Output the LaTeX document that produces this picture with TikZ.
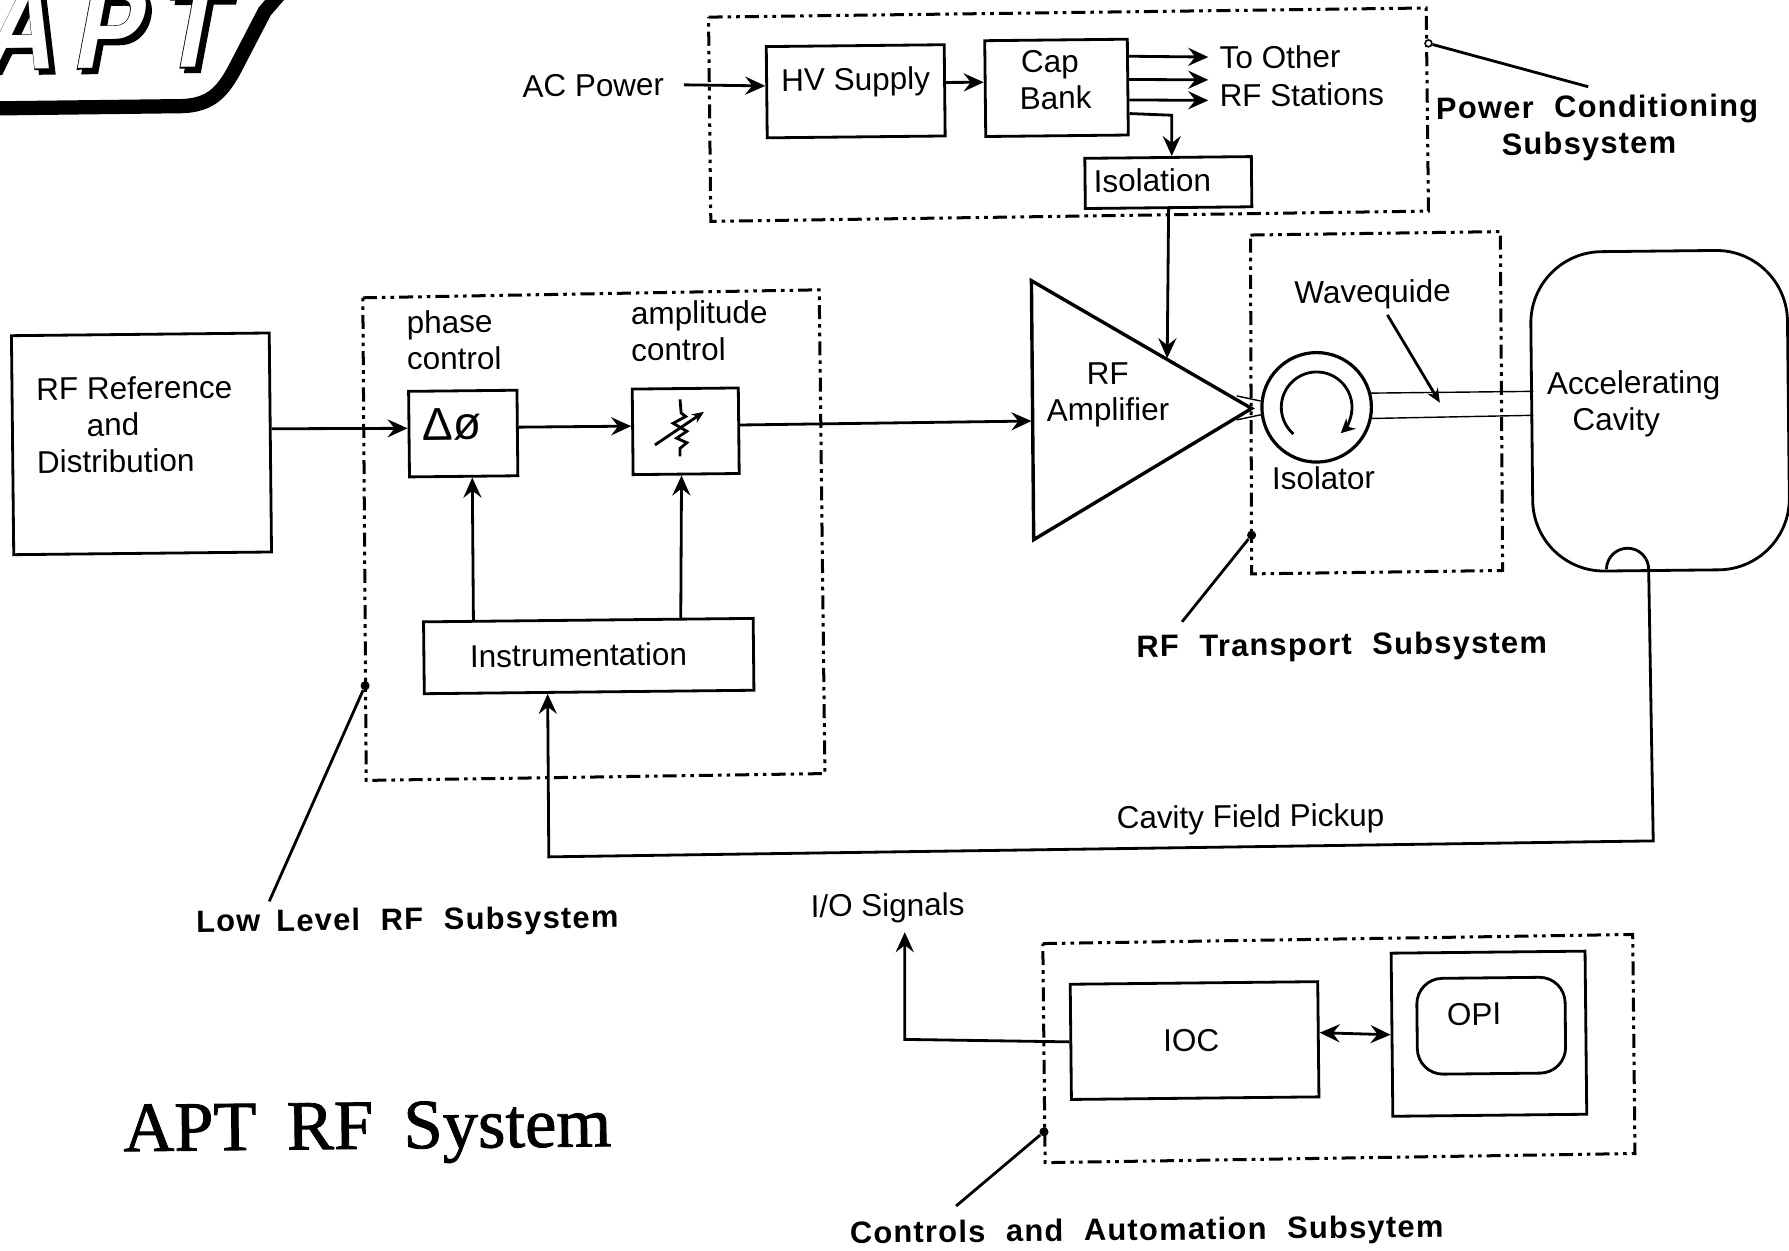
\documentclass[tikz,border=0pt]{standalone}
\usepackage{fontspec}
\usetikzlibrary{arrows.meta}
\setmainfont{Liberation Sans}
\newfontfamily\boldlab[LetterSpace=4]{Liberation Sans Bold}
\newfontfamily\titlefont[FakeBold=1.2]{Liberation Serif}
\newfontfamily\logoout[FakeBold=2,FakeSlant=0.2,FakeStretch=0.85,LetterSpace=16]{Liberation Sans Bold}
\newfontfamily\logoin[FakeSlant=0.2,FakeStretch=0.85,LetterSpace=16]{Liberation Sans Bold}
\tikzset{
  every node/.style={rotate=0.6,inner sep=0pt},
  lab/.style={font=\fontsize{15.7}{18.2}\selectfont,align=center},
  blab/.style={font=\fontsize{15.4}{18.2}\selectfont\boldlab,align=center},
  box/.style={draw,line width=1.4pt,rectangle,lab},
  line/.style={line width=1.4pt},
  thin line/.style={line width=0.7pt},
  flow/.style={line width=1.4pt,-{Stealth[length=10pt,width=9pt,inset=3.5pt]}},
  flowboth/.style={line width=1.4pt,{Stealth[length=10pt,width=9pt,inset=3.5pt]}-{Stealth[length=10pt,width=9pt,inset=3.5pt]}},
  frame/.style={line width=1.5pt,dash pattern=on 7pt off 2.5pt on 1.8pt off 2.5pt on 1.8pt off 2.5pt},
  spot/.style={fill=black,circle,minimum size=0.16cm},
}
\begin{document}
\begin{tikzpicture}[x=0.02cm,y=-0.02cm]
\useasboundingbox (0,0) rectangle (1568,1096);
% logo
\begin{scope}
\clip (0,0) rectangle (300,120);
\node[anchor=base west,text=black] (logoshadow) at (-14,65) {\fontsize{59}{60}\selectfont\logoout APT};
\node[anchor=base west,text=black] (logoedge) at (-18,61) {\fontsize{59}{60}\selectfont\logoout APT};
\node[anchor=base west,text=white] (logo) at (-18,61) {\fontsize{59}{60}\selectfont\logoin APT};
\draw[line width=0.25cm] (-5,95) -- (160,93) .. controls (185,92) and (195,80) .. (205,62) -- (232,10) -- (245,-5);
\end{scope}
% frames
\draw[frame] (621,15) -- (1250,7) -- (1252,185) -- (623,194) -- cycle;
\draw[frame] (318,261) -- (718,254) -- (723,678) -- (321,684) -- cycle;
\draw[frame] (1096,206) -- (1315,203) -- (1317,500) -- (1097,503) -- cycle;
\draw[frame] (914,827) -- (1431,819) -- (1433,1011) -- (916,1019) -- cycle;
% power conditioning
\node[lab] (acpower) at (520,75) {AC Power};
\node[box,minimum width=3.12cm,minimum height=1.6cm] (hv) at (750,80) {};
\node[lab] (hvt) at (750,72) {HV Supply};
\node[box,minimum width=2.5cm,minimum height=1.68cm] (cap) at (926,77) {};
\node[lab,align=left] (capt) at (925,70) {\hspace*{0.03cm}Cap\\Bank};
\node[box,minimum width=2.92cm,minimum height=0.88cm] (iso1) at (1024,160) {};
\node[lab] (iso1t) at (1010,158) {Isolation};
\node[lab] (other1) at (1122,50) {To Other};
\node[lab] (other2) at (1141,83) {RF Stations};
\coordinate (to1) at (1059,50);
\coordinate (to2) at (1059,70);
\coordinate (to3) at (1059,88);
\coordinate (elbow) at (1027,101);
\draw[flow] (acpower.east) ++(17,0) coordinate (acstart) -- (hv.176);
\draw[flow] (hv.5) -- (cap.175);
\draw[flow] (cap.23) -- (to1);
\draw[flow] (cap.6) -- (to2);
\draw[flow] (cap.-10) -- (to3);
\draw[flow] (cap.-20) -- (elbow) -- (iso1.north -| elbow);
% power label
\node[spot,fill=white,draw,line width=.8pt,minimum size=0.12cm] (pdot) at (1252,38) {};
\node[blab] (powerlab) at (1400,112) {Power\hspace{0.35em} Conditioning\\Subsystem\hspace*{0.3cm}};
\coordinate (powerlead) at (1392,76);
\draw[line] (pdot) -- (powerlead);
% RF reference
\node[box,minimum width=4.52cm,minimum height=3.84cm] (rfref) at (124,389) {};
\node[lab,align=left] (rfreft) at (118,372) {RF Reference\\\hspace*{0.88cm}and\\Distribution};
% low level
\node[box,minimum width=1.9cm,minimum height=1.5cm] (phase) at (406,380) {};
\node[font=\fontsize{23}{24}\selectfont] (phaset) at (396,372) {Δø};
\node[box,minimum width=1.86cm,minimum height=1.5cm] (amp) at (601,378) {};
\node[lab,align=left] (phasel) at (398,298) {phase\\control};
\node[lab,align=left] (ampl) at (613,290) {amplitude\\control};
\node[box,minimum width=5.78cm,minimum height=1.26cm] (inst) at (516,575) {};
\node[lab] (instt) at (507,574) {Instrumentation};
\begin{scope}[shift={(596,375)}]
\draw[line] (0,-25) -- (1,-13) -- (5,-10) -- (-6,-4) -- (6,3) -- (-3,9) -- (6,13) -- (0,18) -- (0,25);
\draw[line,-{Stealth[length=6pt,width=5pt]}] (-22,15) -- (21,-14);
\end{scope}
% amplifier
\coordinate (ta) at (904,246);
\coordinate (tb) at (1097,358);
\coordinate (tc) at (906,473);
\draw[line width=1.7pt] (ta) -- (tb) -- (tc) -- cycle;
\node[lab] (ampt) at (971,346) {RF\\Amplifier};
\coordinate (tin) at (904,369);
\coordinate (tctl) at (1023,314);
\draw[flow] (rfref.6) -- (phase.174);
\draw[flow] (phase.6) -- (amp.174);
\draw[flow] (amp.6) -- (tin);
\draw[flow] (iso1.south) -- (tctl);
\draw[flow] (inst.162.44) -- (phase.281);
\draw[flow] (inst.22.3) -- (amp.264);
% isolator and waveguide
\node[circle,draw,line width=1.6pt,minimum size=1.92cm] (isolator) at (1154,357) {};
\draw[line,-{Stealth[length=7pt,width=7pt]}] ([shift={(229:0.62cm)}]isolator.center) arc[start angle=229,end angle=-47,radius=0.62cm];
\node[lab] (isolt) at (1160,419) {Isolator};
\node[lab] (wgt) at (1203,258) {Wavequide};
\coordinate (sa) at (1084,347);
\coordinate (sb) at (1084,368);
\coordinate (wa) at (1344,343);
\coordinate (wb) at (1344,364);
\coordinate (wtip) at (1262,353);
\draw[thin line] (sa) -- (isolator.173);
\draw[thin line] (sb) -- (isolator.187);
\draw[thin line] (isolator.14) -- (wa);
\draw[thin line] (isolator.-12) -- (wb);
\coordinate (wgstart) at (1216,276);
\draw[line,-{Stealth[length=7pt,width=6pt]}] (wgstart) -- (wtip);
% cavity
\node[draw,line width=1.4pt,rounded corners=1.25cm,minimum width=4.5cm,minimum height=5.6cm] (cavity) at (1455,360) {};
\node[lab,align=left] (cavityt) at (1432,354) {Accelerating\\\hspace*{0.44cm}Cavity};
\draw[line] (1408,499) arc[start angle=180,end angle=0,radius=0.37cm] coordinate (loop);
\coordinate (pick1) at (1449,737);
\coordinate (pick2) at (481,751);
\draw[flow] (loop) -- (pick1) -- (pick2) -- (inst.222.4);
\node[lab] (pickt) at (1096,718) {Cavity Field Pickup};
% controls
\node[box,minimum width=4.34cm,minimum height=2.02cm] (ioc) at (1047,912) {};
\node[lab] (ioct) at (1044,912) {IOC};
\node[box,minimum width=3.4cm,minimum height=2.86cm] (mon) at (1305,906) {};
\node[draw,line width=1.4pt,rounded corners=0.45cm,minimum width=2.6cm,minimum height=1.68cm] (opi) at (1307,899) {};
\node[lab] (opit) at (1292,889) {OPI};
\node[lab] (iot) at (778,796) {I/O Signals};
\coordinate (iocorner) at (793,911);
\coordinate (iotip) at (793,817);
\draw[flow] (ioc.west) -- (iocorner) -- (iotip);
\draw[flowboth] (ioc.3.7) -- (mon.180);
% subsystem labels with leaders
\node[spot] (ldot) at (320,601) {};
\node[blab] (lowlab) at (357,808) {Low\hspace{0.2em} Level\hspace{0.35em} RF\hspace{0.35em} Subsystem};
\coordinate (lowlead) at (236,790);
\draw[line] (ldot) -- (lowlead);
\node[spot] (tdot) at (1097,469) {};
\node[blab] (translab) at (1176,567) {RF\hspace{0.35em} Transport\hspace{0.35em} Subsystem};
\coordinate (translead) at (1036,545);
\draw[line] (tdot) -- (translead);
\node[spot] (cdot) at (915,992) {};
\node[blab] (ctllab) at (1005,1080) {Controls\hspace{0.35em} and\hspace{0.35em} Automation\hspace{0.35em} Subsytem};
\coordinate (ctllead) at (838,1057);
\draw[line] (cdot) -- (ctllead);
% title
\node[font=\fontsize{35.2}{36}\selectfont\titlefont] (title) at (322,993) {APT\hspace{0.18em} RF\hspace{0.18em} System};
\end{tikzpicture}
\end{document}
